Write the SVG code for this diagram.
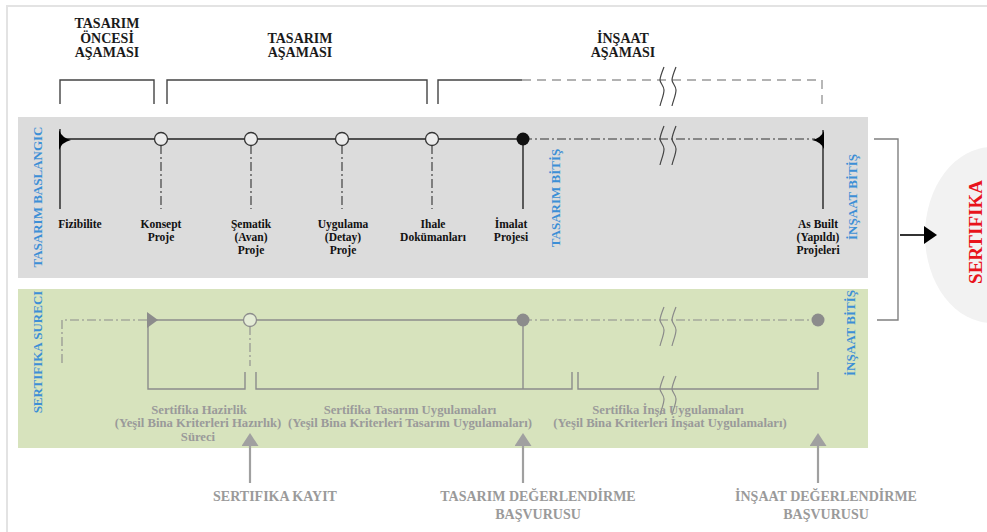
<svg xmlns="http://www.w3.org/2000/svg" xmlns:xlink="http://www.w3.org/1999/xlink" width="987" height="532" viewBox="0 0 987 532">
<defs>
<style>
text{font-family:"Liberation Serif","Times New Roman",serif;font-weight:bold}
.hdr{font-size:14px;fill:#1a1a1a;text-anchor:middle}
.lbl{font-size:11.5px;fill:#111;text-anchor:middle}
.blue{font-size:13px;fill:#3d8fd6;text-anchor:middle}
.gl{font-size:12.7px;fill:#9a9a9a;text-anchor:middle}
.bt{font-size:14px;fill:#9a9a9a;text-anchor:middle}
.red{font-size:19px;fill:#e8141c;text-anchor:middle}
.brk{fill:none;stroke:#444;stroke-width:1.2}
.brkg{fill:none;stroke:#8a8a8a;stroke-width:1.2}
.hb{fill:none;stroke:#444;stroke-width:1.4}
.hdash{fill:none;stroke:#999;stroke-width:1.4;stroke-dasharray:9 6}
.dk{stroke:#222;stroke-width:1.4;fill:none}
.dd{stroke:#333;stroke-width:1.1;stroke-dasharray:9 3 2 3;fill:none}
.gr{stroke:#8c8c8c;stroke-width:1.4;fill:none}
.grdd{stroke:#8c8c8c;stroke-width:1.1;stroke-dasharray:9 3 2 3;fill:none}
.oc{fill:#ececec;stroke:#333;stroke-width:1.3}
.ocg{fill:#e4ecd6;stroke:#8c8c8c;stroke-width:1.3}
.garr{stroke:#a0a0a0;stroke-width:2.2;fill:none;marker-end:url(#gh)}
</style>
<path id="sq" d="M4,-13 C2,-8 0,-3 0,0 C0,3 4,6 4,10 C4,15 1,21 0,26"/>
<marker id="gh" viewBox="0 0 13 17" refX="1" refY="8.5" markerWidth="13" markerHeight="17" markerUnits="userSpaceOnUse" orient="auto">
<path d="M0,0 L13,8.5 L0,17 z" fill="#a0a0a0"/>
</marker>
<marker id="bh" viewBox="0 0 13 18" refX="1" refY="9" markerWidth="13" markerHeight="18" markerUnits="userSpaceOnUse" orient="auto">
<path d="M0,0 L13,9 L0,18 z" fill="#000"/>
</marker>
</defs>

<rect x="7" y="6" width="1000" height="600" fill="#fff" stroke="#e3e3e3" stroke-width="2"/>

<!-- panels -->
<rect id="panel-design" x="18" y="117" width="850" height="161" fill="#dcdcdc"/>
<rect id="panel-cert" x="18" y="289" width="850" height="159" fill="#d7e3bd"/>
<ellipse id="cert-bg" cx="992" cy="235" rx="67" ry="88" fill="#f2f2f2"/>

<!-- header phases -->
<g id="phase-pre">
<text class="hdr" x="107" y="28">TASARIM</text>
<text class="hdr" x="107" y="43">ÖNCESİ</text>
<text class="hdr" x="107" y="57">AŞAMASI</text>
<path class="hb" d="M60,104 V80 H154 V104"/>
</g>
<g id="phase-design">
<text class="hdr" x="300" y="43">TASARIM</text>
<text class="hdr" x="300" y="57">AŞAMASI</text>
<path class="hb" d="M167,104 V80 H427 V104"/>
</g>
<g id="phase-build">
<text class="hdr" x="623" y="43">İNŞAAT</text>
<text class="hdr" x="623" y="57">AŞAMASI</text>
<path class="hb" d="M438,104 V80 H522" stroke="#777"/>
<path class="hdash" d="M522,80 H822 V104"/>
<use href="#sq" class="brk" x="660" y="80"/>
<use href="#sq" class="brk" x="672" y="80"/>
</g>

<!-- connectors -->
<g id="connectors">
<line class="dk" x1="60" y1="139" x2="523" y2="139"/>
<line class="dd" x1="523" y1="139" x2="815" y2="139"/>
<use href="#sq" class="brk" x="660" y="139"/>
<use href="#sq" class="brk" x="672" y="139"/>
<line class="dd" x1="161" y1="145" x2="161" y2="209"/>
<line class="dd" x1="251" y1="145" x2="251" y2="209"/>
<line class="dd" x1="342" y1="145" x2="342" y2="209"/>
<line class="dd" x1="432" y1="145" x2="432" y2="209"/>
<line class="dk" x1="523" y1="139" x2="523" y2="209"/>

<path class="grdd" d="M62,363 V320 H148"/>
<line class="gr" x1="148" y1="320" x2="523" y2="320"/>
<line class="grdd" x1="523" y1="320" x2="818" y2="320"/>
<use href="#sq" class="brkg" x="660" y="320"/>
<use href="#sq" class="brkg" x="672" y="320"/>
<line class="grdd" x1="250" y1="326" x2="250" y2="366"/>
<line class="gr" x1="523" y1="320" x2="523" y2="389"/>
<path class="gr" d="M148,320 V389 H245 V372"/>
<path class="gr" d="M256,372 V389 H572 V372"/>
<path class="gr" d="M578,372 V389 H818 V372"/>
<use href="#sq" class="brkg" x="660" y="389"/>
<use href="#sq" class="brkg" x="672" y="389"/>

<path d="M874,139 H898 V320 H877" fill="none" stroke="#808080" stroke-width="1.4"/>
<line x1="900" y1="235" x2="925" y2="235" stroke="#000" stroke-width="1.6" marker-end="url(#bh)"/>

<line class="garr" x1="250" y1="483" x2="250" y2="445"/>
<line class="garr" x1="523" y1="483" x2="523" y2="445"/>
<line class="garr" x1="818" y1="483" x2="818" y2="445"/>
</g>

<!-- design timeline nodes -->
<g id="n-fizibilite">
<line class="dk" x1="60" y1="129" x2="60" y2="209"/>
<path d="M59,130 Q62,138 71,140 Q62,142 59,150 z" fill="#000"/>
<text class="lbl" x="80" y="228">Fizibilite</text>
</g>
<g id="n-konsept">
<circle class="oc" cx="161" cy="139" r="6.5"/>
<text class="lbl" x="161" y="228">Konsept</text>
<text class="lbl" x="161" y="241">Proje</text>
</g>
<g id="n-sematik">
<circle class="oc" cx="251" cy="139" r="6.5"/>
<text class="lbl" x="251" y="228">Şematik</text>
<text class="lbl" x="251" y="241">(Avan)</text>
<text class="lbl" x="251" y="254">Proje</text>
</g>
<g id="n-uygulama">
<circle class="oc" cx="342" cy="139" r="6.5"/>
<text class="lbl" x="343" y="228">Uygulama</text>
<text class="lbl" x="343" y="241">(Detay)</text>
<text class="lbl" x="343" y="254">Proje</text>
</g>
<g id="n-ihale">
<circle class="oc" cx="432" cy="139" r="6.5"/>
<text class="lbl" x="433" y="228">Ihale</text>
<text class="lbl" x="433" y="241">Dokümanları</text>
</g>
<g id="n-imalat">
<circle cx="523" cy="139" r="6.5" fill="#111"/>
<text class="lbl" x="511" y="228">İmalat</text>
<text class="lbl" x="511" y="241">Projesi</text>
</g>
<g id="n-asbuilt">
<line class="dk" x1="823" y1="130" x2="823" y2="209"/>
<path d="M824,131 Q821,138 812,140 Q821,142 824,149 z" fill="#000"/>
<text class="lbl" x="818" y="228">As Built</text>
<text class="lbl" x="818" y="241">(Yapıldı)</text>
<text class="lbl" x="818" y="254">Projeleri</text>
</g>

<!-- vertical blue labels -->
<g id="lbl-tasarim-baslangic"><text class="blue" transform="translate(42,197) rotate(-90)">TASARIM BASLANGIC</text></g>
<g id="lbl-tasarim-bitis"><text class="blue" transform="translate(560,198) rotate(-90)">TASARIM BİTİŞ</text></g>
<g id="lbl-insaat-bitis-1"><text class="blue" transform="translate(857,197) rotate(-90)">İNŞAAT BİTİŞ</text></g>
<g id="lbl-sertifika-sureci"><text class="blue" transform="translate(42,352) rotate(-90)">SERTIFIKA SURECI</text></g>
<g id="lbl-insaat-bitis-2"><text class="blue" transform="translate(855,333) rotate(-90)">İNŞAAT BİTİŞ</text></g>

<!-- certification timeline nodes -->
<g id="c-start">
<path d="M147,312 L158,320 L147,328 z" fill="#8c8c8c"/>
</g>
<g id="c-hazirlik">
<circle class="ocg" cx="250" cy="320" r="6.5"/>
<text class="gl" x="199" y="414">Sertifika Hazirlik</text>
<text class="gl" x="198" y="427">(Yeşil Bina Kriterleri Hazırlık)</text>
<text class="gl" x="198" y="441">Süreci</text>
</g>
<g id="c-tasarim">
<circle cx="523" cy="320" r="6.5" fill="#8c8c8c"/>
<text class="gl" x="410" y="414">Sertifika Tasarım Uygulamaları</text>
<text class="gl" x="410" y="427">(Yeşil Bina Kriterleri Tasarım Uygulamaları)</text>
</g>
<g id="c-insaat">
<circle cx="818" cy="320" r="6.5" fill="#8c8c8c"/>
<text class="gl" x="668" y="414">Sertifika İnşa Uygulamaları</text>
<text class="gl" x="670" y="427">(Yeşil Bina Kriterleri İnşaat Uygulamaları)</text>
</g>

<!-- bottom labels -->
<g id="b-kayit"><text class="bt" x="275" y="501">SERTIFIKA KAYIT</text></g>
<g id="b-tasarim"><text class="bt" x="538" y="501">TASARIM DEĞERLENDİRME</text><text class="bt" x="538" y="519">BAŞVURUSU</text></g>
<g id="b-insaat"><text class="bt" x="826" y="501">İNŞAAT DEĞERLENDİRME</text><text class="bt" x="826" y="519">BAŞVURUSU</text></g>

<!-- certificate -->
<g id="sertifika"><text class="red" transform="translate(982,232) rotate(-90)">SERTIFIKA</text></g>
</svg>
